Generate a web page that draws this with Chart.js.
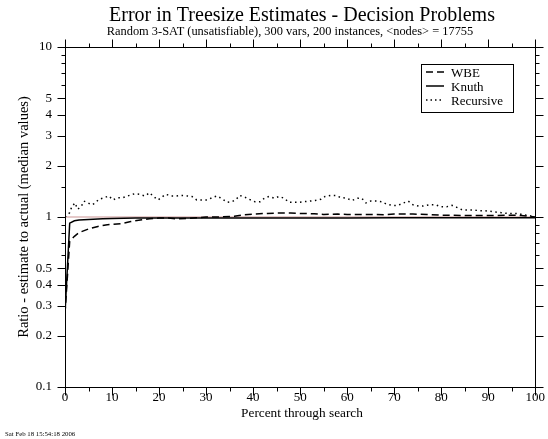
<!DOCTYPE html>
<html>
<head>
<meta charset="utf-8">
<script src="https://cdn.jsdelivr.net/npm/chart.js@4/dist/chart.umd.min.js"></script>
<style>
html, body { margin: 0; padding: 0; background: #fff; }
</style>
</head>
<body>
<canvas id="errChart" width="548" height="439"></canvas>
<script>
// data
const knuthX = [0, 1, 2, 3, 4, 6, 8, 10, 15, 20, 30, 40, 50, 60, 70, 80, 90, 100];
const knuthY = [0.27, 0.92, 0.95, 0.96, 0.965, 0.97, 0.975, 0.98, 0.985, 0.985, 0.985, 0.985, 0.985, 0.985, 0.99, 0.99, 0.99, 0.99];

const wbeX = [0, 1, 2, 3, 5, 7, 9, 12, 14, 16, 18, 20, 22, 24, 26, 28, 30, 33, 36, 38, 40, 43, 45, 48, 50, 53, 55, 58, 60, 63, 65, 68, 70, 72, 74, 77, 80, 85, 90, 95, 97, 100];
const wbeY = [0.27, 0.72, 0.77, 0.81, 0.85, 0.88, 0.9, 0.915, 0.94, 0.96, 0.975, 0.985, 0.985, 0.975, 0.98, 0.99, 1.0, 1.0, 1.01, 1.03, 1.04, 1.05, 1.055, 1.055, 1.05, 1.045, 1.035, 1.04, 1.035, 1.035, 1.035, 1.03, 1.04, 1.04, 1.04, 1.035, 1.025, 1.02, 1.02, 1.025, 1.02, 1.0];

const recX = [0, 1, 1.4, 2.1, 2.7, 3.5, 4, 4.7, 5.6, 6.3, 7.2, 8.4, 9.3, 10.2, 11.2, 12.3, 13.7, 14.8, 15.8, 17, 18, 18.8, 19.8, 21.4, 22.6, 23.7, 24.8, 26, 27, 28, 29.2, 30.3, 31.3, 32.3, 33.4, 34.5, 35.5, 36.4, 37.1, 38.2, 39.2, 40.4, 41.5, 42.4, 43.4, 44.5, 45.5, 46.6, 47.6, 48.7, 49.7, 50.8, 52, 53.2, 54.4, 55.3, 56.5, 57.5, 58.7, 59.9, 61, 62.2, 63.1, 64, 65, 66.2, 67.3, 68.4, 69.6, 70.8, 72, 73, 74, 75.2, 76.2, 77.6, 78.8, 80, 81.2, 82.3, 83.3, 84.5, 85.7, 86.8, 88.1, 89.3, 90.4, 91.6, 92.8, 94, 95.1, 96.3, 97.4, 98.6, 100];
const recY = [1.0, 1.06, 1.14, 1.21, 1.11, 1.16, 1.24, 1.22, 1.18, 1.2, 1.27, 1.3, 1.33, 1.26, 1.3, 1.3, 1.34, 1.37, 1.36, 1.33, 1.39, 1.32, 1.26, 1.36, 1.33, 1.33, 1.34, 1.33, 1.32, 1.26, 1.26, 1.26, 1.3, 1.33, 1.28, 1.22, 1.23, 1.27, 1.34, 1.31, 1.27, 1.23, 1.23, 1.29, 1.32, 1.29, 1.32, 1.29, 1.22, 1.22, 1.22, 1.23, 1.24, 1.25, 1.27, 1.32, 1.34, 1.34, 1.3, 1.29, 1.25, 1.29, 1.29, 1.21, 1.24, 1.24, 1.23, 1.19, 1.17, 1.17, 1.21, 1.24, 1.18, 1.16, 1.16, 1.18, 1.18, 1.15, 1.15, 1.17, 1.14, 1.1, 1.1, 1.1, 1.09, 1.09, 1.08, 1.07, 1.06, 1.05, 1.05, 1.05, 1.03, 1.02, 1.0];

const refX = [0, 100];
const refY = [1, 1];

const yLabeled = [0.1, 0.2, 0.3, 0.4, 0.5, 1, 2, 3, 4, 5, 10];
const xTickVals = [0, 5, 10, 15, 20, 25, 30, 35, 40, 45, 50, 55, 60, 65, 70, 75, 80, 85, 90, 95, 100];

const SERIF = '"Liberation Serif", "DejaVu Serif", serif';

function pts(xs, ys) {
    return xs.map(function(x, i) { return { x: x, y: ys[i] }; });
}
function isLabeled(v) {
    return yLabeled.some(function(t) { return Math.abs(v - t) / t < 1e-6; });
}

// frame, ticks, titles and legend
const framePlugin = {
    id: 'frame',
    afterDraw: function(chart) {
        const ctx = chart.ctx;
        const ca = chart.chartArea;
        const xs = chart.scales.x, ys = chart.scales.y;
        const L = Math.round(ca.left) + 0.5, R = Math.round(ca.right) + 0.5;
        const T = Math.round(ca.top) + 0.5, B = Math.round(ca.bottom) + 0.5;
        ctx.save();
        ctx.strokeStyle = '#000';
        ctx.lineWidth = 1;
        ctx.strokeRect(L, T, R - L, B - T);
        ctx.beginPath();
        xTickVals.forEach(function(v) {
            const p = Math.round(xs.getPixelForValue(v)) + 0.5;
            const len = v % 10 === 0 ? 8 : 4;
            ctx.moveTo(p, B); ctx.lineTo(p, B + len);
            ctx.moveTo(p, T); ctx.lineTo(p, T - len);
        });
        ys.ticks.forEach(function(t) {
            const p = Math.round(ys.getPixelForValue(t.value)) + 0.5;
            const len = isLabeled(t.value) ? 8 : 4;
            ctx.moveTo(L, p); ctx.lineTo(L - len, p);
            ctx.moveTo(R, p); ctx.lineTo(R + len, p);
        });
        ctx.stroke();

        // titles
        ctx.fillStyle = '#000';
        ctx.textAlign = 'center';
        ctx.textBaseline = 'alphabetic';
        ctx.font = '20px ' + SERIF;
        ctx.fillText('Error in Treesize Estimates - Decision Problems', 302, 21);
        ctx.font = '12.4px ' + SERIF;
        ctx.fillText('Random 3-SAT (unsatisfiable), 300 vars, 200 instances, <nodes> = 17755', 290, 35);
        ctx.font = '13.3px ' + SERIF;
        ctx.fillText('Percent through search', 302, 417);
        ctx.save();
        ctx.translate(28, 217);
        ctx.rotate(-Math.PI / 2);
        ctx.font = '14.5px ' + SERIF;
        ctx.fillText('Ratio - estimate to actual (median values)', 0, 0);
        ctx.restore();
        ctx.textAlign = 'left';
        ctx.font = '6.8px ' + SERIF;
        ctx.fillText('Sat Feb 18 15:54:18 2006', 5, 436);

        // legend
        ctx.strokeRect(421.5, 64.5, 92, 48);
        const rows = [['WBE', [7, 4]], ['Knuth', []], ['Recursive', [1.5, 3]]];
        ctx.font = '13px ' + SERIF;
        ctx.lineWidth = 1.5;
        rows.forEach(function(r, i) {
            const y = 72 + i * 14;
            ctx.setLineDash(r[1]);
            ctx.beginPath();
            ctx.moveTo(426, y); ctx.lineTo(444, y);
            ctx.stroke();
            ctx.setLineDash([]);
            ctx.fillText(r[0], 451, y + 4.5);
        });
        ctx.restore();
    }
};

const ctx = document.getElementById('errChart').getContext('2d');
const errChart = new Chart(ctx, {
    type: 'line',
    data: {
        datasets: [
            {
                label: 'WBE',
                data: pts(wbeX, wbeY),
                borderColor: '#000',
                borderWidth: 1.5,
                borderDash: [7, 4],
                pointRadius: 0,
                tension: 0,
                order: 1
            },
            {
                label: 'Knuth',
                data: pts(knuthX, knuthY),
                borderColor: '#000',
                borderWidth: 1.5,
                pointRadius: 0,
                tension: 0,
                order: 2
            },
            {
                label: 'Recursive',
                data: pts(recX, recY),
                borderColor: '#000',
                borderWidth: 1.5,
                borderDash: [1.5, 3.5],
                pointRadius: 0,
                tension: 0,
                order: 0
            },
            {
                label: 'ref',
                data: pts(refX, refY),
                borderColor: 'rgba(190,120,120,0.8)',
                borderWidth: 1,
                pointRadius: 0,
                order: 5
            }
        ]
    },
    options: {
        responsive: false,
        animation: false,
        layout: { padding: { left: 0, top: 47, right: 9, bottom: 0 } },
        plugins: {
            legend: { display: false },
            title: { display: false },
            tooltip: { enabled: false }
        },
        scales: {
            x: {
                type: 'linear',
                min: 0,
                max: 100,
                grid: { display: false, drawTicks: false },
                border: { display: false },
                ticks: {
                    stepSize: 10,
                    padding: 3,
                    color: '#000',
                    font: { family: SERIF, size: 13 },
                    maxRotation: 0
                },
                afterFit: function(scale) { scale.height = 52; }
            },
            y: {
                type: 'logarithmic',
                min: 0.1,
                max: 10,
                grid: { display: false, drawTicks: false },
                border: { display: false },
                ticks: {
                    autoSkip: false,
                    padding: 13,
                    color: '#000',
                    font: { family: SERIF, size: 13 },
                    callback: function(v) { return isLabeled(v) ? String(+v.toPrecision(3)) : ''; }
                },
                afterFit: function(scale) { scale.width = 65; }
            }
        }
    },
    plugins: [framePlugin]
});
</script>
</body>
</html>
